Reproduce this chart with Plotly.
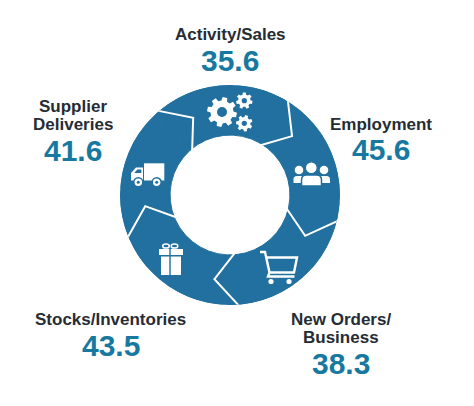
"""Donut de subíndices PMI con iconos y etiquetas alrededor."""

import math

import plotly.graph_objects as go

# --- Datos ---
categories = [
    "Activity/Sales",
    "Employment",
    "New Orders/<br>Business",
    "Stocks/Inventories",
    "Supplier<br>Deliveries",
]
values = [35.6, 45.6, 38.3, 43.5, 41.6]
icons = ["gears", "people", "cart", "gift", "truck"]

# --- Estilo / layout ---
W, H = 474, 406
RING = "#21709f"
VALUE_COLOR = "#17799f"
LABEL_COLOR = "#262c33"
FONT = "Arial, Liberation Sans, sans-serif"
CENTER = (230, 195)  # px
R_OUT = 110  # px
HOLE = 0.545
FIRST_EDGE = -42  # grados, borde inicial del primer segmento

# posición (px) del centro de la primera línea de cada etiqueta
LABEL_XY = [(230, 34.5), (381, 124), (340.5, 319.5), (110.5, 319.5), (73, 106.5)]
LINE_STEP = 18
VALUE_STEP = 25.5


def px(x):
    return x / W


def py(y):
    return 1 - y / H


def path(points, close=True):
    s = "M " + " L ".join(f"{px(x):.5f},{py(y):.5f}" for x, y in points)
    return s + (" Z" if close else "")


def poly(points, color="white"):
    return dict(type="path", xref="paper", yref="paper", path=path(points),
                fillcolor=color, line=dict(width=0), layer="above")


def stroke(points, width=2.4):
    return dict(type="path", xref="paper", yref="paper", path=path(points, close=False),
                fillcolor="rgba(0,0,0,0)", line=dict(color="white", width=width),
                layer="above")


def circle(cx, cy, r, color="white", line=None):
    return dict(type="circle", xref="paper", yref="paper",
                x0=px(cx - r), x1=px(cx + r), y0=py(cy + r), y1=py(cy - r),
                fillcolor=color, line=line or dict(width=0), layer="above")


def ellipse_outline(cx, cy, rx, ry, width=1.5):
    return dict(type="circle", xref="paper", yref="paper",
                x0=px(cx - rx), x1=px(cx + rx), y0=py(cy + ry), y1=py(cy - ry),
                fillcolor="rgba(0,0,0,0)", line=dict(color="white", width=width),
                layer="above")


def rounded_top(x0, x1, yt, yb, rr, outline=None):
    s = (f"M {px(x0):.5f},{py(yb):.5f} L {px(x0):.5f},{py(yt + rr):.5f} "
         f"Q {px(x0):.5f},{py(yt):.5f} {px(x0 + rr):.5f},{py(yt):.5f} "
         f"L {px(x1 - rr):.5f},{py(yt):.5f} "
         f"Q {px(x1):.5f},{py(yt):.5f} {px(x1):.5f},{py(yt + rr):.5f} "
         f"L {px(x1):.5f},{py(yb):.5f} Z")
    return dict(type="path", xref="paper", yref="paper", path=s, fillcolor="white",
                line=outline or dict(width=0), layer="above")


def gear(cx, cy, r_out, r_root, r_hole, teeth=8, rot=0.0):
    p = 2 * math.pi / teeth
    pts = []
    for i in range(teeth):
        c = i * p + rot
        for r, a in ((r_root, c - 0.32 * p), (r_out, c - 0.2 * p),
                     (r_out, c + 0.2 * p), (r_root, c + 0.32 * p)):
            pts.append((cx + r * math.sin(a), cy - r * math.cos(a)))
    return [poly(pts), circle(cx, cy, r_hole, RING)]


def icon_shapes(name):
    if name == "gears":
        return (gear(222, 112, 15, 11.5, 5, 8, 0.2)
                + gear(244.3, 100.7, 8.3, 6.2, 2.6, 7)
                + gear(244.3, 123.3, 8.3, 6.2, 2.6, 7, 0.3))
    if name == "people":
        return [
            circle(299, 170, 4.3), circle(324, 170, 4.3),
            rounded_top(293.5, 304, 176, 183, 3.5),
            rounded_top(319, 330, 176, 183, 3.5),
            rounded_top(301.5, 321.5, 175, 186, 5, dict(color=RING, width=1.5)),
            circle(311.3, 167.7, 5.9, "white", dict(color=RING, width=1.2)),
        ]
    if name == "cart":
        return [
            stroke([(260, 252), (265, 252), (269.5, 272.5), (268, 276.5), (294.5, 276.5)]),
            stroke([(266, 257.5), (297, 257.5), (294, 272.5), (269.5, 272.5)]),
            circle(271, 281.5, 2.6), circle(289, 281.5, 2.6),
        ]
    if name == "gift":
        return [
            ellipse_outline(166, 246, 3.3, 2.1),
            ellipse_outline(174.5, 246, 3.3, 2.1),
            poly([(159, 249), (169.3, 249), (169.3, 255), (159, 255)]),
            poly([(170.7, 249), (183, 249), (183, 255), (170.7, 255)]),
            poly([(161, 256.5), (169.3, 256.5), (169.3, 275), (161, 275)]),
            poly([(170.7, 256.5), (181, 256.5), (181, 275), (170.7, 275)]),
        ]
    if name == "truck":
        return [
            poly([(144, 163.3), (164.3, 163.3), (164.3, 180.5), (144, 180.5)]),
            poly([(131, 180.5), (131, 173), (136, 167.5), (143, 167.5), (143, 180.5)]),
            poly([(134.3, 173), (137.3, 169.5), (141.3, 169.5), (141.3, 173)], RING),
            circle(138.3, 182.3, 4.5, "white", dict(color=RING, width=1.5)),
            circle(156.7, 182.3, 4.5, "white", dict(color=RING, width=1.5)),
            circle(138.3, 182.3, 1.5, RING), circle(156.7, 182.3, 1.5, RING),
        ]
    return []


n = len(categories)
seg = 360 / n
theta_mid = [FIRST_EDGE + seg * (i + 0.5) for i in range(n)]

fig = go.Figure()

# Anillo: un segmento por subíndice
fig.add_trace(
    go.Barpolar(
        theta=theta_mid,
        r=[1 - HOLE] * n,
        base=[HOLE] * n,
        width=[seg] * n,
        marker=dict(color=RING, line=dict(color=RING, width=1)),
        customdata=values,
        text=[c.replace("<br>", " ") for c in categories],
        hovertemplate="%{text}: %{customdata}<extra></extra>",
        showlegend=False,
    )
)

# Separadores en forma de flecha entre segmentos
for i in range(n):
    b = FIRST_EDGE + seg * (i + 1)
    fig.add_trace(
        go.Scatterpolar(
            r=[1.03, (1 + HOLE) / 2 + 0.005, HOLE - 0.02],
            theta=[b + 0.5, b + 16.5, b + 1],
            mode="lines",
            line=dict(color="white", width=2),
            hoverinfo="skip",
            showlegend=False,
        )
    )

cx, cy = CENTER
fig.update_layout(
    width=W,
    height=H,
    margin=dict(l=0, r=0, t=0, b=0),
    paper_bgcolor="white",
    plot_bgcolor="white",
    showlegend=False,
    polar=dict(
        domain=dict(x=[px(cx - R_OUT), px(cx + R_OUT)], y=[py(cy + R_OUT), py(cy - R_OUT)]),
        bgcolor="rgba(0,0,0,0)",
        radialaxis=dict(range=[0, 1], visible=False, showgrid=False),
        angularaxis=dict(rotation=90, direction="clockwise", visible=False,
                         showgrid=False, showline=False),
    ),
)

shapes = []
for name in icons:
    shapes += icon_shapes(name)

annotations = []
for label, value, (lx, ly) in zip(categories, values, LABEL_XY):
    lines = label.split("<br>")
    for k, line in enumerate(lines):
        annotations.append(dict(
            x=px(lx), y=py(ly + k * LINE_STEP), xref="paper", yref="paper",
            text=line, showarrow=False, xanchor="center", yanchor="middle",
            font=dict(family=FONT, size=17, color=LABEL_COLOR, weight="bold"),
        ))
    vy = ly + (len(lines) - 1) * LINE_STEP + VALUE_STEP
    annotations.append(dict(
        x=px(lx), y=py(vy), xref="paper", yref="paper",
        text=f"{value:.1f}", showarrow=False, xanchor="center", yanchor="middle",
        font=dict(family=FONT, size=30, color=VALUE_COLOR, weight="bold"),
    ))

fig.update_layout(shapes=shapes, annotations=annotations)

# sin margen del body para que la figura quede alineada con la ventana
fig.write_html(
    "out.html",
    config={"displayModeBar": False},
    post_script="document.body.style.margin = '0';",
)
